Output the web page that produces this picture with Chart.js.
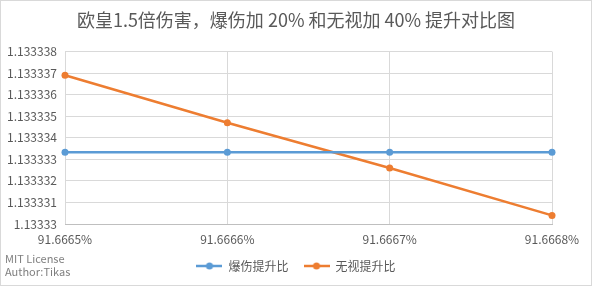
<!DOCTYPE html>
<html>
<head>
<meta charset="utf-8">
<script src="https://cdn.jsdelivr.net/npm/chart.js@4.4.0/dist/chart.umd.min.js"></script>
<style>
  html, body { margin: 0; padding: 0; background: #fff; }
</style>
</head>
<body>
<canvas id="bijiaoChart" width="592" height="286"></canvas>
<script>
// 数据
const xLabels = ['91.6665%', '91.6666%', '91.6667%', '91.6668%'];
const baoshang = [1.13333333, 1.13333333, 1.13333333, 1.13333333];
const wushi = [1.1333369, 1.1333347, 1.1333326, 1.1333304];
const yMin = 1.13333;
const yMax = 1.133338;
const yStep = 0.000001;

const grey = '#595959';
const fontCN = '"Noto Sans CJK SC", "Noto Sans", sans-serif';

// 图例里的 线+点 样式
function legendIcon(color) {
    const c = document.createElement('canvas');
    c.width = 26; c.height = 10;
    const g = c.getContext('2d');
    g.strokeStyle = color; g.lineWidth = 2.5;
    g.beginPath(); g.moveTo(0, 5); g.lineTo(26, 5); g.stroke();
    g.fillStyle = color;
    g.beginPath(); g.arc(13, 5, 3.5, 0, Math.PI * 2); g.fill();
    return c;
}

const extras = {
    id: 'extras',
    afterDraw(chart) {
        const ctx = chart.ctx;
        ctx.save();
        ctx.fillStyle = '#7f7f7f';
        ctx.font = '11px ' + fontCN;
        ctx.textBaseline = 'middle';
        ctx.fillText('MIT License', 5, 259);
        ctx.fillText('Author:Tikas', 5, 272);
        ctx.strokeStyle = '#d9d9d9';
        ctx.lineWidth = 1;
        ctx.strokeRect(0.5, 0.5, chart.width - 1, chart.height - 1);
        ctx.restore();
    }
};

const ctx = document.getElementById('bijiaoChart').getContext('2d');
new Chart(ctx, {
    type: 'line',
    data: {
        labels: xLabels,
        datasets: [
            { label: '爆伤提升比', data: baoshang, borderColor: '#5b9bd5', backgroundColor: '#5b9bd5',
              borderWidth: 2.5, pointRadius: 3.5, pointBackgroundColor: '#5b9bd5', pointBorderWidth: 0 },
            { label: '无视提升比', data: wushi, borderColor: '#ed7d31', backgroundColor: '#ed7d31',
              borderWidth: 2.5, pointRadius: 3.5, pointBackgroundColor: '#ed7d31', pointBorderWidth: 0 }
        ]
    },
    options: {
        responsive: false,
        animation: false,
        devicePixelRatio: 1,
        layout: { padding: { top: 0, left: 0, right: 0, bottom: 4 } },
        plugins: {
            title: {
                display: true,
                text: '欧皇1.5倍伤害，爆伤加 20% 和无视加 40% 提升对比图',
                color: grey,
                font: { family: fontCN, size: 18, weight: 'normal' },
                padding: { top: 9, bottom: 21 }
            },
            legend: {
                position: 'bottom',
                labels: {
                    color: grey,
                    font: { family: fontCN, size: 12 },
                    usePointStyle: true,
                    pointStyleWidth: 26,
                    boxHeight: 10,
                    padding: 15,
                    generateLabels(chart) {
                        return chart.data.datasets.map((ds, i) => ({
                            text: ds.label,
                            fontColor: grey,
                            pointStyle: legendIcon(ds.borderColor),
                            datasetIndex: i,
                            hidden: false,
                            lineWidth: 0
                        }));
                    }
                }
            },
            tooltip: { enabled: false }
        },
        scales: {
            x: {
                offset: false,
                grid: { color: '#d9d9d9', drawTicks: false },
                border: { color: '#bfbfbf' },
                afterFit(scale) { scale.height = 21; },
                ticks: { color: grey, font: { family: fontCN, size: 12 }, padding: 8, maxRotation: 0 }
            },
            y: {
                min: yMin,
                max: yMax,
                grid: { color: '#d9d9d9', drawTicks: false },
                border: { display: false },
                afterFit(scale) { scale.width = 65; },
                ticks: {
                    stepSize: yStep,
                    color: grey,
                    padding: 8,
                    font: { family: fontCN, size: 12 },
                    callback: v => String(parseFloat(Number(v).toFixed(6)))
                }
            },
            // 右边留白
            kongbai: {
                position: 'right',
                grid: { display: false },
                border: { display: false },
                ticks: { display: false },
                afterFit(scale) { scale.width = 40; }
            }
        }
    },
    plugins: [extras]
});
</script>
</body>
</html>
